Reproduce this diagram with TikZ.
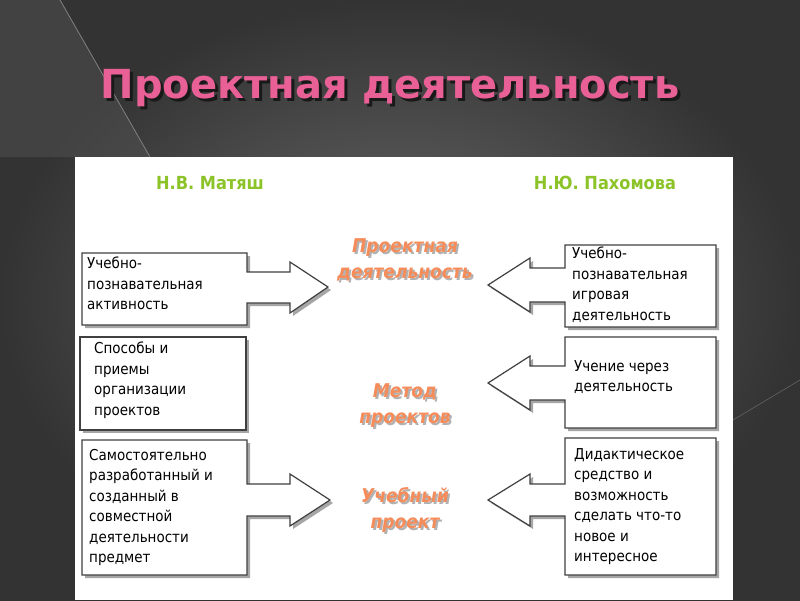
\documentclass[tikz,border=0pt]{standalone}
\usepackage{fontspec}
\setmainfont{DejaVu Sans}
\newfontfamily\condf{DejaVu Sans Condensed}
\begin{document}
\begin{tikzpicture}[x=1pt,y=-1pt,
  box/.style={draw=black!75,line width=1.2pt,fill=white},
  shd/.style={fill=black!35},
  txt/.style={anchor=north west,align=left,font=\condf\fontsize{15}{20.5}\selectfont,inner sep=0},
  mid/.style={font=\condf\bfseries\itshape\fontsize{19}{26}\selectfont,text={rgb,255:red,245;green,140;blue,90},align=center},
  auth/.style={font=\condf\bfseries\fontsize{18}{20}\selectfont,text={rgb,255:red,140;green,195;blue,40}}]
\useasboundingbox (0,0) rectangle (800,600);
\shade[inner color=black!58,outer color=black!80] (0,0) rectangle (800,600);
\fill[black!68,opacity=0.5] (0,0) -- (60,0) -- (150,157) -- (0,157) -- cycle;
\draw[black!50,line width=0.8pt] (60,0) -- (150,157);
\draw[black!55] (733,420) -- (800,380);
\node[font=\bfseries\fontsize{40}{44}\selectfont,text=black!90] at (393,91) {Проектная деятельность};
\node[font=\bfseries\fontsize{40}{44}\selectfont,text={rgb,255:red,232;green,96;blue,150}] (title) at (390,88) {Проектная деятельность};
\fill[white] (75,157) rectangle (733,600);
\node[auth] (a1) at (210,183) {Н.В. Матяш};
\node[auth] (a2) at (605,183) {Н.Ю. Пахомова};
\foreach \dx in {3,0}{
 \begin{scope}[shift={(\dx,\dx)}]
 \ifnum\dx=3 \tikzset{cur/.style={shd}}\else\tikzset{cur/.style={box}}\fi
 \path[cur] (82,253)--(247,253)--(247,272)--(290,272)--(290,262)--(328,287)--(290,313)--(290,303)--(247,303)--(247,325)--(82,325)--cycle;
 \path[cur] (80,337) rectangle (246,430);
 \path[cur] (82,440)--(247,440)--(247,484)--(290,484)--(290,474)--(330,500)--(290,526)--(290,516)--(247,516)--(247,575)--(82,575)--cycle;
 \path[cur] (716,245)--(565,245)--(565,268)--(530,268)--(530,258)--(488,285)--(530,312)--(530,302)--(565,302)--(565,327)--(716,327)--cycle;
 \path[cur] (716,337)--(565,337)--(565,366)--(530,366)--(530,356)--(488,383)--(530,410)--(530,400)--(565,400)--(565,428)--(716,428)--cycle;
 \path[cur] (716,438)--(565,438)--(565,484)--(530,484)--(530,474)--(488,500)--(530,526)--(530,516)--(565,516)--(565,575)--(716,575)--cycle;
 \end{scope}}
\node[txt] (l1) at (87,257) {Учебно-\\познавательная\\активность};
\node[txt] (l2) at (94,342) {Способы и\\приемы\\организации\\проектов};
\node[txt] (l3) at (89,449) {Самостоятельно\\разработанный и\\созданный в\\совместной\\деятельности\\предмет};
\node[txt] (r1) at (572,247) {Учебно-\\познавательная\\игровая\\деятельность};
\node[txt] (r2) at (574,360) {Учение через\\деятельность};
\node[txt] (r3) at (574,448) {Дидактическое\\средство и\\возможность\\сделать что-то\\новое и\\интересное};
\node[mid,text=black!30] at (407,262) {Проектная\\деятельность};
\node[mid] (m1) at (405,260) {Проектная\\деятельность};
\node[mid,text=black!30] at (407,408) {Метод\\проектов};
\node[mid] (m2) at (405,406) {Метод\\проектов};
\node[mid,text=black!30] at (407,512) {Учебный\\проект};
\node[mid] (m3) at (405,510) {Учебный\\проект};
\end{tikzpicture}
\end{document}
